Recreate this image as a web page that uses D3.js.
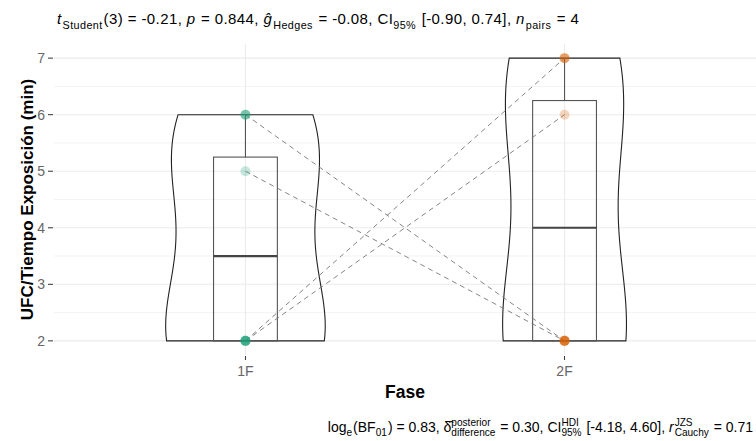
<!DOCTYPE html>
<html><head><meta charset="utf-8">
<script src="https://cdn.jsdelivr.net/npm/d3@7"></script>
<style>body{margin:0;background:#fff}svg{display:block}text{font-family:"Liberation Sans",Arial,sans-serif;white-space:pre}</style>
</head><body>
<script>
const categories = ["1F", "2F"];
const values1F = [6, 5, 2, 2];
const values2F = [2, 2, 7, 6];
const groupColors = ["#1B9E77", "#D95F02"];
const yTicks = [2, 3, 4, 5, 6, 7];
const xLabel = "Fase";
const yLabel = "UFC/Tiempo Exposición (min)";

const W = 756, H = 441;
const svg = d3.select("body").append("svg").attr("width", W).attr("height", H);
const panel = {l: 54, r: 756, t: 44, b: 355};

const x = d3.scaleLinear().domain([0.4, 2.6]).range([panel.l, panel.r]);
const y = d3.scaleLinear().domain([1.75, 7.25]).range([panel.b, panel.t]);
const pxPerUnit = x(2) - x(1);

const groups = [values1F, values2F];

// grid
const gGrid = svg.append("g");
d3.range(2.5, 7, 1).forEach(v => gGrid.append("line").attr("x1", panel.l).attr("x2", panel.r)
  .attr("y1", y(v)).attr("y2", y(v)).attr("stroke", "#f3f3f3").attr("stroke-width", 1));
yTicks.forEach(v => gGrid.append("line").attr("x1", panel.l).attr("x2", panel.r)
  .attr("y1", y(v)).attr("y2", y(v)).attr("stroke", "#ebebeb").attr("stroke-width", 1.1));
categories.forEach((c, i) => gGrid.append("line").attr("x1", x(i + 1)).attr("x2", x(i + 1))
  .attr("y1", panel.t).attr("y2", panel.b).attr("stroke", "#ebebeb").attr("stroke-width", 1.1));

// KDE (R nrd0 bandwidth, gaussian kernel, trimmed)
function quantile7(s, p) { const h = (s.length - 1) * p, lo = Math.floor(h); return s[lo] + (h - lo) * ((s[lo + 1] ?? s[lo]) - s[lo]); }
function nrd0(vals) {
  const s = vals.slice().sort((a, b) => a - b);
  const sd = d3.deviation(s);
  const iqr = quantile7(s, 0.75) - quantile7(s, 0.25);
  const lo = Math.min(sd, iqr / 1.34);
  return 0.9 * lo * Math.pow(s.length, -0.2);
}
function kde(vals) {
  const bw = nrd0(vals), n = vals.length;
  const mn = d3.min(vals), mx = d3.max(vals);
  return d3.range(512).map(k => {
    const t = mn + (mx - mn) * k / 511;
    const d = d3.sum(vals, v => Math.exp(-0.5 * ((t - v) / bw) ** 2)) / (n * bw * Math.sqrt(2 * Math.PI));
    return [t, d];
  });
}
const dens = groups.map(kde);
const maxD = d3.max(dens, g => d3.max(g, d => d[1]));

// violins
dens.forEach((g, i) => {
  const cx = x(i + 1);
  const pts = g.map(d => [cx + d[1] / maxD * 0.25 * pxPerUnit, y(d[0])])
    .concat(g.slice().reverse().map(d => [cx - d[1] / maxD * 0.25 * pxPerUnit, y(d[0])]));
  svg.append("path").attr("d", d3.line()(pts) + "Z").attr("fill", "none")
    .attr("stroke", "#222").attr("stroke-width", 1.1);
});

// boxplots
groups.forEach((vals, i) => {
  const s = vals.slice().sort((a, b) => a - b);
  const q1 = quantile7(s, 0.25), med = quantile7(s, 0.5), q3 = quantile7(s, 0.75);
  const iqr = q3 - q1;
  const hi = d3.max(s.filter(v => v <= q3 + 1.5 * iqr)), lo = d3.min(s.filter(v => v >= q1 - 1.5 * iqr));
  const cx = x(i + 1), hw = 0.1 * pxPerUnit;
  const g = svg.append("g").attr("stroke", "#555").attr("fill", "none");
  g.append("line").attr("x1", cx).attr("x2", cx).attr("y1", y(q3)).attr("y2", y(hi)).attr("stroke-width", 1.1);
  g.append("line").attr("x1", cx).attr("x2", cx).attr("y1", y(q1)).attr("y2", y(lo)).attr("stroke-width", 1.1);
  g.append("rect").attr("x", cx - hw).attr("width", 2 * hw).attr("y", y(q3)).attr("height", y(q1) - y(q3)).attr("stroke-width", 1.1);
  g.append("line").attr("x1", cx - hw).attr("x2", cx + hw).attr("y1", y(med)).attr("y2", y(med)).attr("stroke-width", 2.2).attr("stroke", "#444");
});

// paired dashed lines
values1F.forEach((v, k) => {
  svg.append("line").attr("x1", x(1)).attr("y1", y(v)).attr("x2", x(2)).attr("y2", y(values2F[k]))
    .attr("stroke", "#777").attr("stroke-width", 0.9).attr("stroke-dasharray", "5,4");
});

// points
groups.forEach((vals, i) => {
  const mn = d3.min(vals), mx = d3.max(vals);
  vals.forEach(v => {
    svg.append("circle").attr("cx", x(i + 1)).attr("cy", y(v)).attr("r", 5)
      .attr("fill", groupColors[i]).attr("fill-opacity", (v === mn || v === mx) ? 0.6 : 0.25);
  });
});

// axes ticks & labels
const tickCol = "#333", labCol = "#666";
yTicks.forEach(v => {
  svg.append("line").attr("x1", panel.l - 6).attr("x2", panel.l - 1).attr("y1", y(v)).attr("y2", y(v)).attr("stroke", tickCol).attr("stroke-width", 1);
  svg.append("text").attr("x", panel.l - 9).attr("y", y(v)).attr("dy", "0.36em").attr("text-anchor", "end")
    .attr("font-size", 14).attr("fill", labCol).text(v);
});
categories.forEach((c, i) => {
  svg.append("line").attr("x1", x(i + 1)).attr("x2", x(i + 1)).attr("y1", panel.b + 1).attr("y2", panel.b + 5).attr("stroke", tickCol).attr("stroke-width", 1);
  svg.append("text").attr("x", x(i + 1)).attr("y", 376).attr("text-anchor", "middle")
    .attr("font-size", 14).attr("fill", labCol).text(c);
});
svg.append("text").attr("x", (panel.l + panel.r) / 2).attr("y", 398).attr("text-anchor", "middle")
  .attr("font-size", 17.5).attr("font-weight", "bold").attr("fill", "#000").text(xLabel);
svg.append("text").attr("transform", `translate(32.5,${(panel.t + panel.b) / 2}) rotate(-90)`).attr("text-anchor", "middle")
  .attr("font-size", 17).attr("font-weight", "bold").attr("fill", "#000").text(yLabel);

// rich text helper
function rich(segs, px, py, fs, anchor, ls) {
  const g = svg.append("g").attr("letter-spacing", ls || 0);
  let cx = 0;
  const small = fs * 0.72;
  segs.forEach(s => {
    if (s.sup !== undefined || s.sub !== undefined) {
      let w = 0;
      if (s.sup !== undefined) {
        const t = g.append("text").attr("x", cx).attr("y", -fs * 0.45).attr("font-size", small).attr("fill", "#000").text(s.sup);
        w = Math.max(w, t.node().getComputedTextLength());
      }
      if (s.sub !== undefined) {
        const t = g.append("text").attr("x", cx).attr("y", fs * 0.3).attr("font-size", small).attr("fill", "#000").text(s.sub);
        w = Math.max(w, t.node().getComputedTextLength());
      }
      cx += w + 1;
    } else {
      const t = g.append("text").attr("x", cx).attr("y", 0).attr("font-size", fs).attr("fill", "#000")
        .attr("font-style", s.it ? "italic" : "normal").text(s.t);
      cx += t.node().getComputedTextLength() + (s.it ? 1 : 0);
    }
  });
  const ox = anchor === "end" ? px - cx : px;
  g.attr("transform", `translate(${ox},${py})`);
}

rich([
  {t: "t", it: true}, {sub: "Student"}, {t: "(3) = -0.21, "}, {t: "p", it: true}, {t: " = 0.844, "},
  {t: "ĝ", it: true}, {sub: "Hedges"}, {t: " = -0.08, CI"}, {sub: "95%"}, {t: " [-0.90, 0.74], "},
  {t: "n", it: true}, {sub: "pairs"}, {t: " = 4"}
], 57, 24, 15, "start", 0.4);

rich([
  {t: "log"}, {sub: "e"}, {t: "(BF"}, {sub: "01"}, {t: ") = 0.83, "},
  {t: "δ̂"}, {sup: "posterior", sub: "difference"}, {t: " = 0.30, CI"}, {sup: "HDI", sub: "95%"},
  {t: " [-4.18, 4.60], "}, {t: "r", it: true}, {sup: "JZS", sub: "Cauchy"}, {t: " = 0.71"}
], 753, 432, 14, "end", 0);
</script>
</body></html>
